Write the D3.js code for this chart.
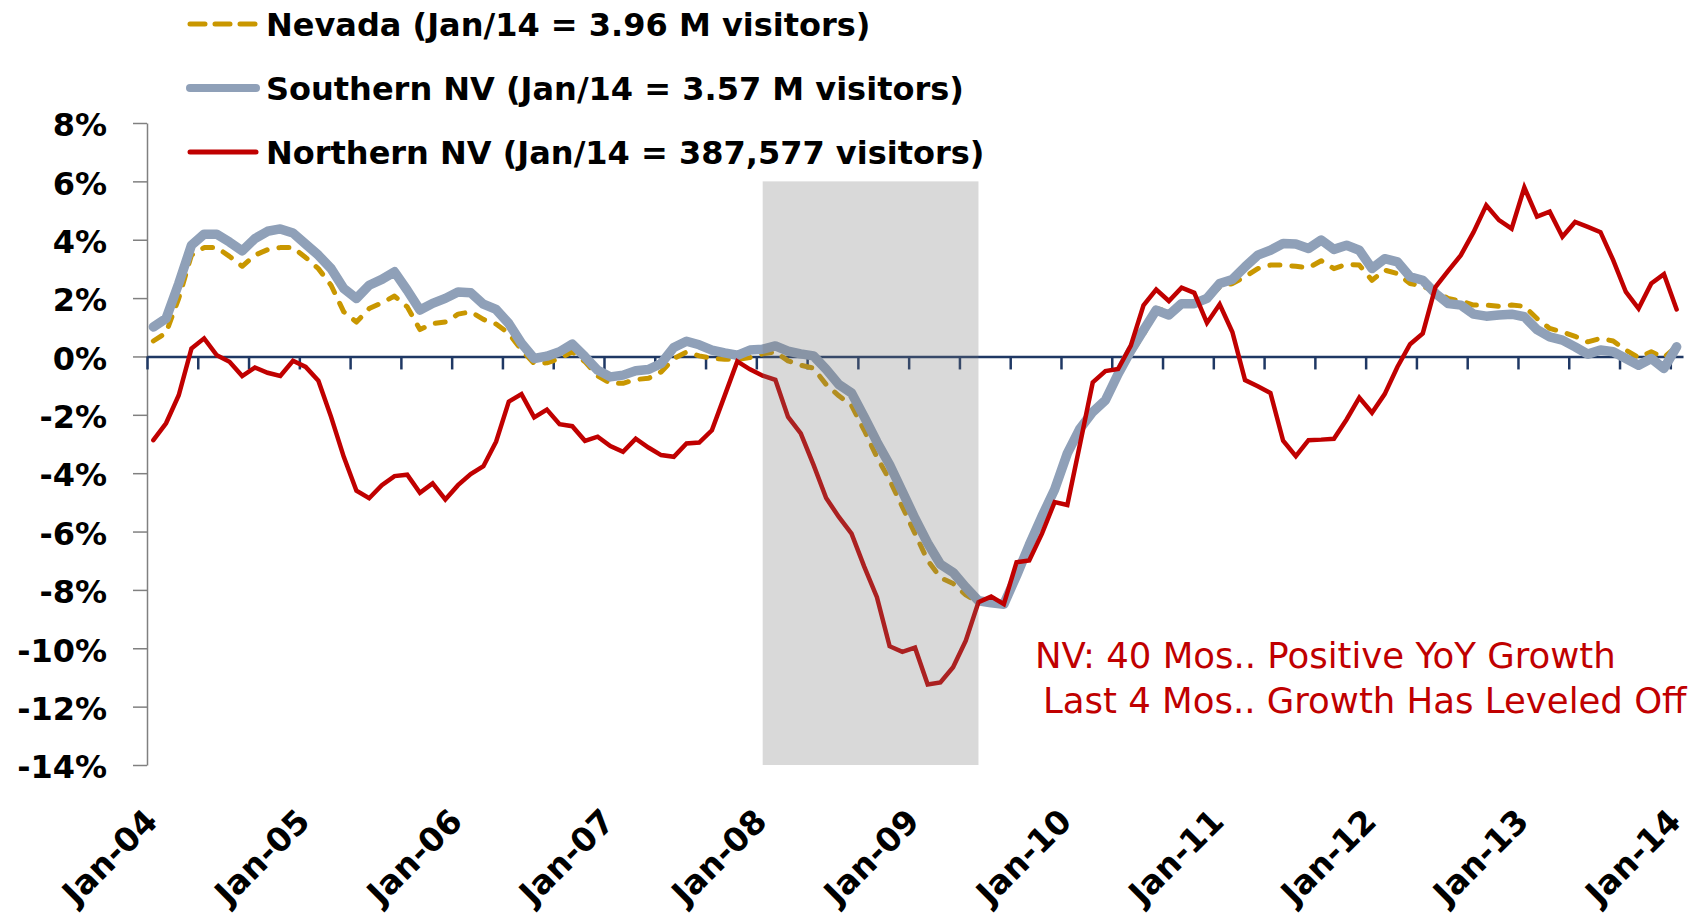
<!doctype html>
<html lang="en">
  <head>
    <meta charset="utf-8">
    <title>Nevada visitor volume YoY</title>
    <script src="https://d3js.org/d3.v7.min.js"></script>
    <style>
      body {
          margin: 0;
          background: #fff;
          font-family: "DejaVu Sans", sans-serif;
      }
      .axis text {
          font-family: "DejaVu Sans", sans-serif;
          font-weight: bold;
          font-size: 32px;
          fill: #000;
      }
      .xlabels text {
          font-size: 33px;
      }
      .legend text {
          font-weight: bold;
          font-size: 32px;
      }
      .note {
          font-size: 35.5px;
          fill: #c00000;
      }
    </style>
  </head>
  <body>
    <script>
      // year-over-year % change, monthly Jan-04 .. Jan-14
      const yearLabels = ['Jan-04', 'Jan-05', 'Jan-06', 'Jan-07', 'Jan-08', 'Jan-09',
                          'Jan-10', 'Jan-11', 'Jan-12', 'Jan-13', 'Jan-14'];

      const nevada = [
          0.53, 0.81, 1.99, 3.47, 3.73, 3.73, 3.43, 3.09, 3.47, 3.66, 3.73, 3.73,
          3.39, 3.01, 2.44, 1.53, 1.18, 1.64, 1.84, 2.07, 1.70, 0.92, 1.13, 1.18,
          1.45, 1.53, 1.27, 1.11, 0.79, 0.22, -0.24, -0.22, -0.07, 0.16, -0.18, -0.67,
          -0.92, -0.92, -0.79, -0.75, -0.53, -0.07, 0.15, 0.02, -0.06, -0.10, -0.10, -0.04,
          0.09, 0.15, -0.15, -0.30, -0.40, -0.96, -1.35, -1.68, -2.53, -3.45, -4.23, -5.15,
          -6.07, -6.99, -7.58, -7.78, -8.17, -8.43, -8.40, -8.45, -7.55, -6.55, -5.55, -4.62,
          -3.40, -2.55, -1.95, -1.55, -0.65, 0.10, 0.75, 1.65, 1.53, 1.76, 1.76, 1.93,
          2.38, 2.50, 2.73, 3.01, 3.13, 3.13, 3.09, 3.04, 3.28, 3.01, 3.16, 3.13,
          2.61, 2.96, 2.84, 2.50, 2.41, 2.21, 1.99, 1.90, 1.76, 1.76, 1.72, 1.76,
          1.72, 1.30, 0.96, 0.84, 0.69, 0.50, 0.62, 0.53, 0.22, -0.04, 0.16, -0.04,
          0.35
      ];

      const southernNV = [
          1.01, 1.30, 2.50, 3.81, 4.19, 4.19, 3.92, 3.62, 4.04, 4.29, 4.37, 4.23,
          3.85, 3.47, 3.01, 2.33, 1.99, 2.44, 2.64, 2.90, 2.27, 1.59, 1.82, 1.99,
          2.21, 2.18, 1.79, 1.61, 1.13, 0.45, -0.07, 0.01, 0.16, 0.42, -0.01, -0.47,
          -0.70, -0.64, -0.49, -0.45, -0.24, 0.31, 0.52, 0.40, 0.22, 0.12, 0.04, 0.22,
          0.25, 0.36, 0.18, 0.09, 0.02, -0.44, -0.96, -1.25, -2.07, -2.93, -3.71, -4.63,
          -5.55, -6.40, -7.12, -7.40, -7.91, -8.37, -8.44, -8.49, -7.51, -6.46, -5.48, -4.56,
          -3.32, -2.47, -1.90, -1.50, -0.60, 0.20, 0.90, 1.59, 1.42, 1.81, 1.81, 1.99,
          2.50, 2.64, 3.07, 3.47, 3.64, 3.87, 3.85, 3.70, 3.99, 3.67, 3.81, 3.64,
          3.01, 3.35, 3.24, 2.73, 2.61, 2.16, 1.81, 1.76, 1.45, 1.38, 1.42, 1.45,
          1.36, 0.92, 0.67, 0.56, 0.33, 0.08, 0.22, 0.16, -0.07, -0.30, -0.07, -0.41,
          0.33
      ];

      const northernNV = [
          -2.87, -2.29, -1.33, 0.27, 0.62, 0.04, -0.18, -0.67, -0.38, -0.56, -0.67, -0.15,
          -0.36, -0.83, -2.07, -3.44, -4.60, -4.86, -4.41, -4.10, -4.05, -4.67, -4.35, -4.90,
          -4.41, -4.03, -3.76, -2.92, -1.55, -1.29, -2.09, -1.82, -2.32, -2.39, -2.89, -2.75,
          -3.07, -3.27, -2.82, -3.12, -3.38, -3.44, -2.98, -2.95, -2.53, -1.35, -0.17, -0.44,
          -0.66, -0.80, -2.07, -2.64, -3.71, -4.85, -5.50, -6.07, -7.20, -8.25, -9.93, -10.12,
          -9.98, -11.24, -11.17, -10.65, -9.74, -8.42, -8.23, -8.49, -7.05, -6.99, -6.07, -4.99,
          -5.09, -3.00, -0.89, -0.50, -0.43, 0.37, 1.75, 2.29, 1.90, 2.36, 2.18, 1.15,
          1.79, 0.84, -0.81, -1.02, -1.25, -2.89, -3.42, -2.87, -2.85, -2.82, -2.16, -1.41,
          -1.93, -1.29, -0.36, 0.42, 0.79, 2.38, 2.93, 3.47, 4.26, 5.18, 4.67, 4.38,
          5.79, 4.79, 4.96, 4.10, 4.61, 4.44, 4.26, 3.30, 2.21, 1.64, 2.50, 2.82,
          1.61
      ];

      const legendLabels = ['Nevada (Jan/14 = 3.96 M visitors)',
                            'Southern NV (Jan/14 = 3.57 M visitors)',
                            'Northern NV (Jan/14 = 387,577 visitors)'];

      const recession = [48, 65];   // month index: Jan-08 .. Jun-09
      const yTicks = [8, 6, 4, 2, 0, -2, -4, -6, -8, -10, -12, -14];

      const noteLines = ['NV: 40 Mos.. Positive YoY Growth',
                         'Last 4 Mos.. Growth Has Leveled Off'];

      const width = 1700, height = 917;
      const margin = {left: 147, right: 17, top: 123, bottom: 152};

      const n = northernNV.length;

      const svg = d3.select('body').append('svg')
          .attr('width', width)
          .attr('height', height);

      const x = d3.scaleLinear()
          .domain([0, n])
          .range([margin.left, width - margin.right]);

      const y = d3.scaleLinear()
          .domain([-14, 8])
          .range([height - margin.bottom, margin.top]);

      const line = d3.line()
          .x((d, i) => x(i + 0.5))
          .y(d => y(d));

      // y axis
      svg.append('g')
          .attr('class', 'axis')
          .attr('transform', `translate(${margin.left},0)`)
          .call(d3.axisLeft(y)
              .tickValues(yTicks)
              .tickSize(14)
              .tickSizeOuter(0)
              .tickPadding(26)
              .tickFormat(d => d + '%'))
          .call(g => g.selectAll('line, path').attr('stroke', '#808080').attr('stroke-width', 1.5))
          .call(g => g.selectAll('text').attr('dy', '0.4em'));

      const series = [
          {values: nevada, color: '#c99700', width: 5, dash: '10,12', join: 'round'},
          {values: southernNV, color: '#8fa0b8', width: 9.5, dash: null, join: 'round'},
          {values: northernNV, color: '#c00000', width: 4.5, dash: null, join: 'miter'}
      ];

      // zero axis with ticks every 4 months
      svg.append('g')
          .attr('transform', `translate(0,${y(0)})`)
          .call(d3.axisBottom(x)
              .tickValues(d3.range(0, n, 4))
              .tickSize(13)
              .tickSizeOuter(0)
              .tickFormat(''))
          .call(g => g.selectAll('line, path').attr('stroke', '#1f3864').attr('stroke-width', 2.5));

      series.forEach(s => {
          svg.append('path')
              .datum(s.values)
              .attr('fill', 'none')
              .attr('stroke', s.color)
              .attr('stroke-width', s.width)
              .attr('stroke-linejoin', s.join)
              .attr('stroke-linecap', 'round')
              .attr('stroke-dasharray', s.dash)
              .attr('d', line);
      });

      // recession shading sits over the lines, semi transparent
      svg.append('rect')
          .attr('x', x(recession[0] + 0.5))
          .attr('width', x(recession[1] + 0.5) - x(recession[0] + 0.5))
          .attr('y', y(6))
          .attr('height', y(-14) - y(6))
          .attr('fill', '#787878')
          .attr('fill-opacity', 0.28);

      // year labels, rotated
      svg.append('g')
          .attr('class', 'axis xlabels')
          .selectAll('text')
          .data(yearLabels)
          .join('text')
          .attr('transform', (d, k) => `translate(${x(k * 12 + 0.5) - 2},815) rotate(-45)`)
          .attr('text-anchor', 'end')
          .attr('dy', '0.35em')
          .text(d => d);

      // legend
      const legend = svg.append('g').attr('class', 'legend');
      series.forEach((s, k) => {
          const base = 36 + k * 64;
          legend.append('line')
              .attr('x1', 190).attr('x2', 256)
              .attr('y1', base - 12).attr('y2', base - 12)
              .attr('stroke', s.color)
              .attr('stroke-width', k === 1 ? 8 : 5)
              .attr('stroke-linecap', 'round')
              .attr('stroke-dasharray', s.dash ? '15,10' : null);
          legend.append('text')
              .attr('x', 266)
              .attr('y', base)
              .text(legendLabels[k]);
      });

      // annotation
      svg.append('text')
          .attr('class', 'note')
          .selectAll('tspan')
          .data(noteLines)
          .join('tspan')
          .attr('x', (d, k) => k ? 1043 : 1035)
          .attr('y', (d, k) => 668 + k * 45)
          .text(d => d);
    </script>
  </body>
</html>
